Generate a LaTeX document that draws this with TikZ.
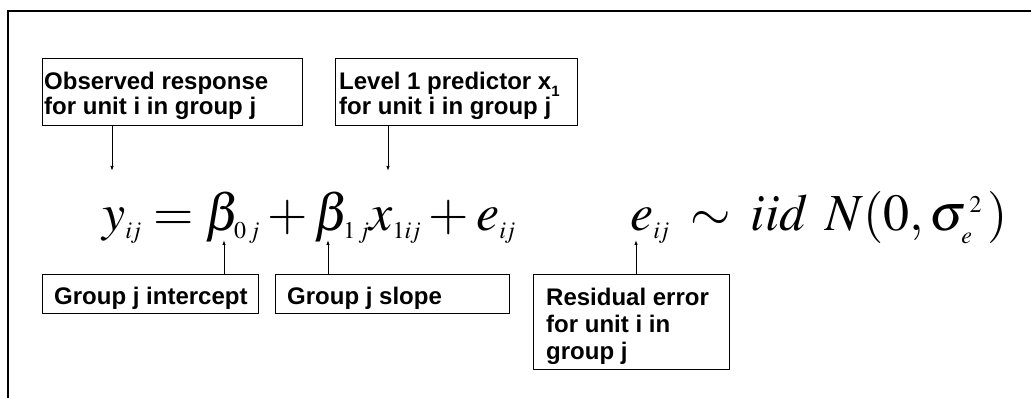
\documentclass[tikz,border=0pt]{standalone}
\usepackage{mathptmx}
\usepackage{fontspec}
\newfontfamily\lblfont{Liberation Sans Bold}
\usetikzlibrary{arrows.meta}
\DeclareMathSizes{52}{52}{24}{17}
\begin{document}
\begin{tikzpicture}[x=1pt,y=-1pt,
  lblbox/.style={draw=black, line width=1pt, anchor=north west, inner sep=0pt},
  lbltxt/.style={anchor=north west, inner sep=0pt, align=left,
     font=\fontsize{24}{25}\selectfont\lblfont},
  arr/.style={line width=0.9pt, -{Latex[length=5pt,width=3.5pt]}},
  eq/.style={anchor=base west, inner sep=0pt, font=\fontsize{52}{56}\selectfont}]
\useasboundingbox (0,0) rectangle (1031,398);
\fill[white] (0,0) rectangle (1031,398);
% frame
\draw[line width=2pt] (8,398) -- (8,11) -- (1031,11);
% equations
\node[eq] (eq1) at (102,231) {$y_{i\mkern-1mu j} = \beta_{0\,j} + \beta_{1\,j} x_{1i\mkern-1mu j} + e_{i\mkern-1mu j}$};
\node[eq] (eq2) at (630,231) {$e_{i\mkern-1mu j}\mkern3mu \sim\mkern3mu iid\;\,N(0,\sigma_e^{\,2}\,)$};
% boxes
\node[lblbox, minimum width=260, minimum height=67] (b1) at (42,58) {};
\node[lbltxt] (t1) at (44,72) {Observed response\\for unit i in group j};
\node[lblbox, minimum width=242, minimum height=67] (b2) at (335,58) {};
\node[lbltxt] (t2) at (339,72) {Level 1 predictor x\raisebox{-0.3em}{\fontsize{15}{15}\selectfont 1}\\for unit i in group j};
\node[lblbox, minimum width=216, minimum height=39] (b3) at (42,274) {};
\node[lbltxt] (t3) at (54,287) {Group j intercept};
\node[lblbox, minimum width=234, minimum height=39] (b4) at (275,274) {};
\node[lbltxt] (t4) at (287,287) {Group j slope};
\node[lblbox, minimum width=196, minimum height=95] (b5) at (533,274) {};
\node[lbltxt, font=\fontsize{24}{27}\selectfont\lblfont] (t5) at (546,288) {Residual error\\for unit i in\\group j};
% arrow ends
\coordinate (p1) at (112,171);
\coordinate (p2) at (388,171);
\coordinate (p3) at (224,240);
\coordinate (p4) at (328,240);
\coordinate (p5) at (636,240);
\draw[arr] (p1 |- b1.south) -- (p1);
\draw[arr] (p2 |- b2.south) -- (p2);
\draw[arr] (p3 |- b3.north) -- (p3);
\draw[arr] (p4 |- b4.north) -- (p4);
\draw[arr] (p5 |- b5.north) -- (p5);
\end{tikzpicture}
\end{document}
